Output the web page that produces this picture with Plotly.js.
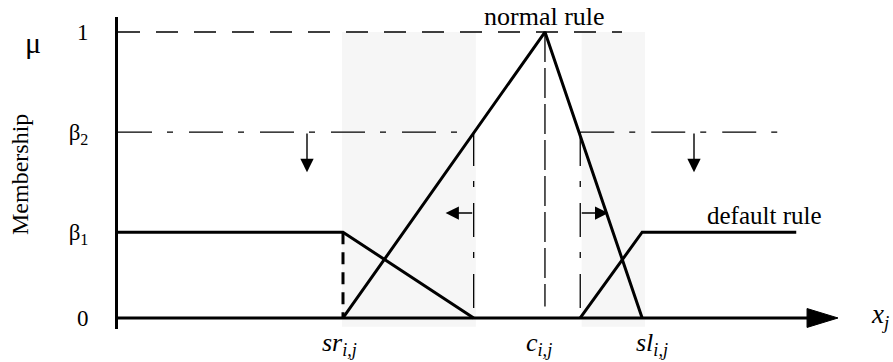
<!DOCTYPE html>
<html>
<head>
<meta charset="utf-8">
<script src="https://cdn.plot.ly/plotly-3.0.1.min.js"></script>
<style>
  html, body { margin: 0; padding: 0; background: #fff; }
  #chart { width: 893px; height: 362px; }
</style>
</head>
<body>
<div id="chart"></div>
<script>
// Membership levels on the vertical axis
const beta1 = 0.30;
const beta2 = 0.65;
const muTickVals = [0, beta1, beta2, 1];
const muTickText = ['0', '\u03b2<sub>1</sub>', '\u03b2<sub>2</sub>', '1'];

// Positions along x_j
const sr = 3.125;      // sr_{i,j}
const c = 5.93;        // c_{i,j}
const sl = 7.28;       // sl_{i,j}
const cutL = 4.94;     // left crossing of the normal rule at beta2
const cutR = 6.42;     // right crossing of the normal rule at beta2
const defaultEnd = 9.42;
const axisEnd = 10;

// Normal rule (triangle)
const normalX = [sr, c, sl];
const normalY = [0, 1, 0];

// Default rule, left and right parts
const defLeftX = [0, sr, cutL];
const defLeftY = [beta1, beta1, 0];
const defRightX = [cutR, sl, defaultEnd];
const defRightY = [0, beta1, beta1];

// Shaded bands
const bandL = [3.11, 4.97];
const bandR = [6.44, 7.32];
const bandY = [-0.031, 1];

// Guide lines
const topLineX = [0, 7.0];
const b2LeftX = [0, cutL];
const b2RightX = [cutR, 9.24];
const cLineY = [1, 0.04];

// Arrows
const downArrowX = [2.625, 8.0];
const downArrowTo = 0.51;
const sideArrowY = 0.367;
const leftArrowTo = 4.55;
const rightArrowTo = 6.81;

const serif = 'Liberation Serif, Times New Roman, serif';
const black = '#000';

function line(x, y, width, dash) {
  return {
    x: x, y: y, type: 'scatter', mode: 'lines', hoverinfo: 'skip',
    line: { color: black, width: width, dash: dash || 'solid' },
    showlegend: false, cliponaxis: false
  };
}

const traces = [
  // guides
  line(topLineX, [1, 1], 1.3, '22px,16px'),
  line(b2LeftX, [beta2, beta2], 1.3, '34px,15px,6px,16px'),
  line(b2RightX, [beta2, beta2], 1.3, '34px,15px,6px,16px'),
  line([cutL, cutL], [beta2, 0], 1.3, '34px,15px,6px,16px'),
  line([cutR, cutR], [beta2, 0], 1.3, '34px,15px,6px,16px'),
  line([c, c], cLineY, 1.3, '30px,6px'),
  line([sr, sr], [beta1, 0], 3, '12px,8px'),
  // rules
  line(defLeftX, defLeftY, 3),
  line(defRightX, defRightY, 3),
  line(normalX, normalY, 3)
];

const shapes = [
  { type: 'rect', xref: 'x', yref: 'y', x0: bandL[0], x1: bandL[1], y0: bandY[0], y1: bandY[1],
    fillcolor: '#f6f6f6', line: { width: 0 }, layer: 'below' },
  { type: 'rect', xref: 'x', yref: 'y', x0: bandR[0], x1: bandR[1], y0: bandY[0], y1: bandY[1],
    fillcolor: '#f6f6f6', line: { width: 0 }, layer: 'below' },
  // x axis with arrow head
  { type: 'line', xref: 'x', yref: 'y', x0: -0.14, x1: 9.6, y0: 0, y1: 0,
    line: { color: black, width: 3 } },
  { type: 'path', xref: 'x', yref: 'y',
    path: 'M 9.57 0.033 L ' + axisEnd + ' 0 L 9.57 -0.033 Z',
    fillcolor: black, line: { color: black, width: 1 } }
];

function arrow(x, y, ax, ay) {
  return {
    x: x, y: y, ax: ax, ay: ay, xref: 'x', yref: 'y', axref: 'x', ayref: 'y',
    text: '', showarrow: true, arrowhead: 2, arrowsize: 1.9, arrowwidth: 1.4,
    arrowcolor: black
  };
}

const annotations = [
  arrow(downArrowX[0], downArrowTo, downArrowX[0], beta2),
  arrow(downArrowX[1], downArrowTo, downArrowX[1], beta2),
  arrow(leftArrowTo, sideArrowY, cutL, sideArrowY),
  arrow(rightArrowTo, sideArrowY, cutR, sideArrowY),
  { x: 0, y: 1, xref: 'x', yref: 'y', xshift: -85, yshift: -10, text: '\u03bc',
    showarrow: false, font: { family: serif, size: 30, color: black } },
  { x: 0, y: 0.5, xref: 'x', yref: 'y', xshift: -98, text: 'Membership', textangle: -90,
    showarrow: false, font: { family: serif, size: 24, color: black } },
  { x: c, y: 1, xref: 'x', yref: 'y', yshift: 16, text: 'normal rule',
    showarrow: false, font: { family: serif, size: 26, color: black } },
  { x: defaultEnd, y: beta1, xref: 'x', yref: 'y', xanchor: 'right', yanchor: 'bottom',
    xshift: 28, yshift: 1, text: 'default rule',
    showarrow: false, font: { family: serif, size: 25, color: black } },
  { x: sr, y: 0, xref: 'x', yref: 'y', yanchor: 'top', xshift: -4, yshift: -8,
    text: '<i>sr</i><sub><i>i,j</i></sub>',
    showarrow: false, font: { family: serif, size: 26, color: black } },
  { x: c, y: 0, xref: 'x', yref: 'y', yanchor: 'top', xshift: -6, yshift: -8,
    text: '<i>c</i><sub><i>i,j</i></sub>',
    showarrow: false, font: { family: serif, size: 26, color: black } },
  { x: sl, y: 0, xref: 'x', yref: 'y', yanchor: 'top', xshift: 10, yshift: -8,
    text: '<i>sl</i><sub><i>i,j</i></sub>',
    showarrow: false, font: { family: serif, size: 26, color: black } },
  { x: axisEnd, y: 0, xref: 'x', yref: 'y', xanchor: 'left', xshift: 31, yshift: 2,
    text: '<i>x</i><sub><i>j</i></sub>',
    showarrow: false, font: { family: serif, size: 27, color: black } }
];

const layout = {
  width: 893, height: 362,
  margin: { l: 118, r: 55, t: 17, b: 33, pad: 0 },
  paper_bgcolor: '#fff', plot_bgcolor: '#fff',
  showlegend: false,
  xaxis: {
    range: [0, axisEnd], showgrid: false, zeroline: false, showline: false,
    showticklabels: false, ticks: '', fixedrange: true
  },
  yaxis: {
    range: [-0.0385, 1.0525], showgrid: false, zeroline: false,
    showline: true, linewidth: 3, linecolor: black,
    tickvals: muTickVals, ticktext: muTickText, ticks: '',
    ticklabelstandoff: 22,
    tickfont: { family: serif, size: 23, color: black }, fixedrange: true
  },
  shapes: shapes,
  annotations: annotations
};

Plotly.newPlot('chart', traces, layout, { staticPlot: true, displayModeBar: false });
</script>
</body>
</html>
